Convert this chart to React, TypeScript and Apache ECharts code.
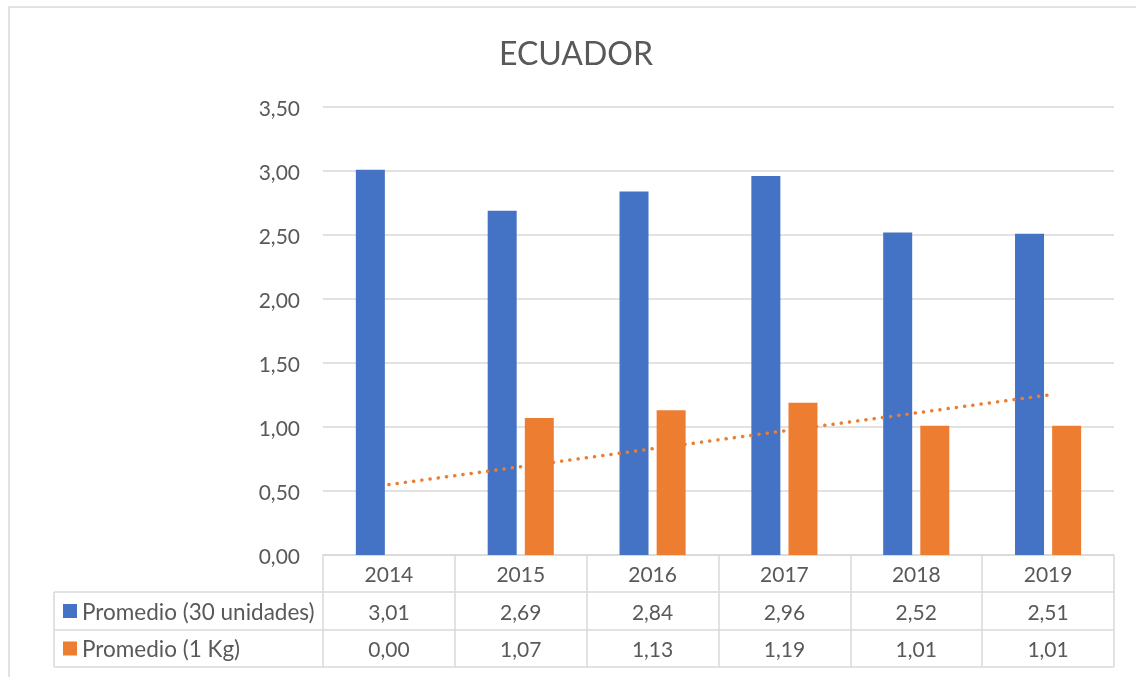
import React, { useEffect, useRef } from 'react';
import * as echarts from 'echarts';

const chartTitle = 'ECUADOR';
const years = ['2014', '2015', '2016', '2017', '2018', '2019'];
const seriesNames = ['Promedio (30 unidades)', 'Promedio (1 Kg)'];
const prom30 = [3.01, 2.69, 2.84, 2.96, 2.52, 2.51];
const prom1kg = [0.0, 1.07, 1.13, 1.19, 1.01, 1.01];
// linear trend of "Promedio (1 Kg)" read at its first and last category
const trendEnds = [0.55, 1.25];
const yMin = 0;
const yMax = 3.5;
const yStep = 0.5;

const fmt = (v: number) => v.toFixed(2).replace('.', ',');

export default function App() {
  const ref = useRef<HTMLDivElement>(null);
  useEffect(() => {
    const chart = echarts.init(ref.current!, null, { renderer: 'svg' });
    const FONT = 'Lato, "Open Sans", sans-serif';
    const TXT = '#595959';
    const LINE = '#d9d9d9';
    const BLUE = '#4472C4';
    const ORANGE = '#ED7D31';
    const gridLeft = 323;
    const gridRight = 22;
    const gridTop = 107;
    const gridBottomY = 555;
    const rowH = [37, 38, 37];
    const tableLeft = 54;
    const tableRight = 1136 - gridRight;
    const NUM = 21;

    const trendData = years.map((_, i) =>
      i === 0 ? trendEnds[0] : i === years.length - 1 ? trendEnds[1] : null
    );

    chart.setOption({
      animation: false,
      textStyle: { fontFamily: FONT },
      grid: { left: gridLeft, right: gridRight, top: gridTop, bottom: 677 - gridBottomY },
      xAxis: {
        type: 'category',
        data: years,
        axisLine: { show: true, lineStyle: { color: LINE, width: 1.5 } },
        axisTick: { show: true, length: rowH[0] + rowH[1] + rowH[2], lineStyle: { color: LINE, width: 1.5 } },
        axisLabel: { color: TXT, fontSize: NUM, fontFamily: FONT, margin: 8 },
      },
      yAxis: {
        type: 'value',
        min: yMin,
        max: yMax,
        interval: yStep,
        axisLine: { show: false },
        axisTick: { show: false },
        axisLabel: { color: TXT, fontSize: NUM, fontFamily: FONT, margin: 23, formatter: (v: number) => fmt(v) },
        splitLine: { lineStyle: { color: LINE, width: 1.5 } },
      },
      series: [
        {
          name: seriesNames[0],
          type: 'bar',
          data: prom30,
          barWidth: 29,
          barGap: '28%',
          itemStyle: { color: BLUE },
          z: 2,
        },
        {
          name: seriesNames[1],
          type: 'bar',
          data: prom1kg,
          barWidth: 29,
          barGap: '28%',
          itemStyle: { color: ORANGE },
          z: 4,
        },
        {
          name: 'trend',
          type: 'line',
          data: trendData,
          connectNulls: true,
          symbol: 'none',
          lineStyle: { color: ORANGE, width: 3.5, type: [0.1, 8.2], cap: 'round' },
          z: 3,
        },
      ],
    });

    const graphics: any[] = [];
    graphics.push({
      type: 'rect',
      shape: { x: 9, y: 7, width: 1300, height: 900 },
      style: { fill: 'none', stroke: LINE, lineWidth: 1.5 },
      z: -1,
    });
    graphics.push({
      type: 'text',
      x: 576,
      y: 52,
      style: { text: chartTitle, fill: TXT, font: `400 32px ${FONT}`, textAlign: 'center', textVerticalAlign: 'middle' },
    });
    const y = gridBottomY + rowH[0];
    const rowTops = [y, y + rowH[1]];
    const rowBottom = y + rowH[1] + rowH[2];
    [y, y + rowH[1], rowBottom].forEach((ly) => {
      graphics.push({
        type: 'line',
        shape: { x1: tableLeft, y1: ly, x2: tableRight, y2: ly },
        style: { stroke: LINE, lineWidth: 1.5 },
      });
    });
    graphics.push({
      type: 'line',
      shape: { x1: tableLeft, y1: rowTops[0], x2: tableLeft, y2: rowBottom },
      style: { stroke: LINE, lineWidth: 1.5 },
    });
    const rows = [prom30, prom1kg];
    const colors = [BLUE, ORANGE];
    rows.forEach((vals, r) => {
      const cy = rowTops[r] + rowH[r + 1] / 2;
      graphics.push({
        type: 'rect',
        shape: { x: 63, y: cy - 7, width: 14, height: 14 },
        style: { fill: colors[r] },
      });
      graphics.push({
        type: 'text',
        x: 82,
        y: cy,
        style: { text: seriesNames[r], fill: TXT, font: `22.5px ${FONT}`, textAlign: 'left', textVerticalAlign: 'middle' },
      });
      vals.forEach((v, i) => {
        const cx = chart.convertToPixel({ xAxisIndex: 0 }, years[i]) as number;
        graphics.push({
          type: 'text',
          x: cx,
          y: cy,
          style: { text: fmt(v), fill: TXT, font: `${NUM}px ${FONT}`, textAlign: 'center', textVerticalAlign: 'middle' },
        });
      });
    });
    chart.setOption({ graphic: graphics });

    return () => chart.dispose();
  }, []);
  return <div ref={ref} style={{ position: 'fixed', left: 0, top: 0, width: 1136, height: 677 }} />;
}
